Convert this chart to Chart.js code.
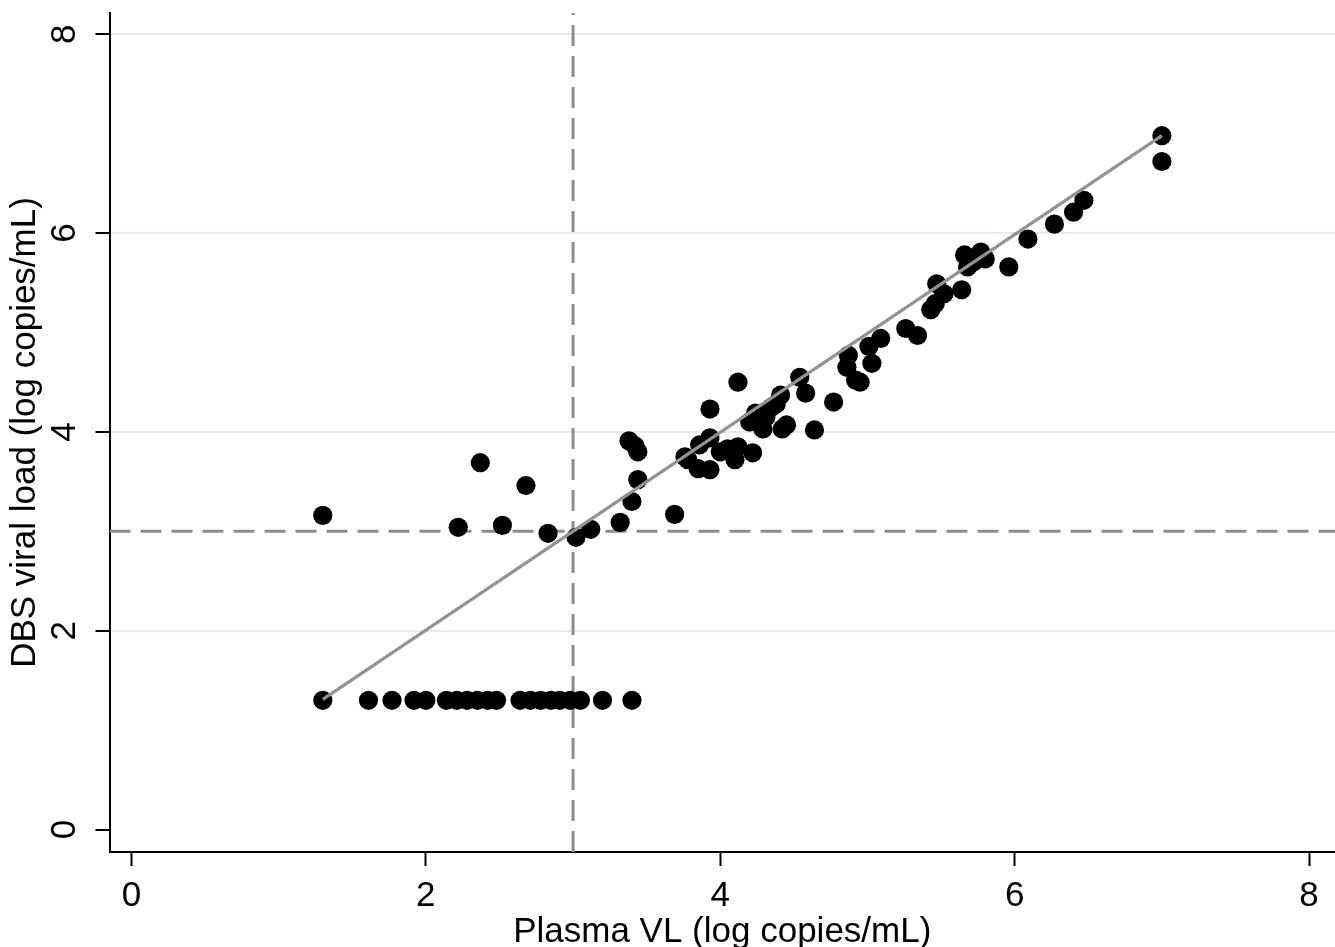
<!DOCTYPE html>
<html>
<head>
<meta charset="utf-8">
<script src="https://cdn.jsdelivr.net/npm/chart.js@4.4.1/dist/chart.umd.min.js"></script>
<style>
html,body{margin:0;padding:0;background:#fff;}
#wrap{width:1335px;height:947px;position:relative;}
</style>
</head>
<body>
<div id="wrap"><canvas id="c"></canvas></div>
<script>
// Samples with DBS below detection (plotted at 1.3 log)
const lowPlasma = [1.30,1.61,1.77,1.92,2.00,2.14,2.21,2.28,2.35,2.42,2.48,2.64,2.71,2.78,2.85,2.91,2.98,3.05,3.20,3.40];
const lowDBS    = [1.30,1.30,1.30,1.30,1.30,1.30,1.30,1.30,1.30,1.30,1.30,1.30,1.30,1.30,1.30,1.30,1.30,1.30,1.30,1.30];

// Samples with detectable DBS viral load
const detPlasma = [1.30,2.22,2.37,2.52,2.68,2.83,3.02,3.12,3.32,3.38,3.42,3.44,3.40,3.44,3.69,3.76,3.78,3.86,3.85,3.93,
                   3.93,3.93,4.00,4.05,4.09,4.10,4.12,4.12,4.22,4.20,4.24,4.27,4.29,4.31,4.35,4.38,4.41,4.42,4.45,4.54,
                   4.58,4.64,4.77,4.87,4.86,4.92,4.95,5.01,5.03,5.09,5.26,5.34,5.43,5.46,5.47,5.52,5.64,5.66,5.68,5.72,
                   5.77,5.80,5.96,6.09,6.27,6.40,6.47,7.00,7.00];
const detDBS    = [3.16,3.04,3.69,3.06,3.46,2.98,2.94,3.02,3.09,3.91,3.86,3.80,3.30,3.52,3.17,3.75,3.72,3.87,3.63,3.62,
                   3.94,4.23,3.80,3.83,3.78,3.72,4.50,3.85,3.79,4.10,4.19,4.10,4.03,4.15,4.25,4.28,4.37,4.03,4.07,4.55,
                   4.39,4.02,4.30,4.77,4.65,4.52,4.50,4.86,4.69,4.94,5.04,4.97,5.23,5.29,5.49,5.39,5.43,5.78,5.66,5.71,
                   5.81,5.74,5.66,5.94,6.09,6.21,6.33,6.98,6.72];

// Fitted line end points
const fitX = [1.30, 7.00];
const fitY = [1.31, 6.98];

// Detection threshold (3 log copies/mL)
const threshold = 3;

const xTicks = [0, 2, 4, 6, 8];
const yTicks = [0, 2, 4, 6, 8];
const xRange = [-0.149, 8.176];
const yRange = [-0.226, 8.214];

const FONT = '"Liberation Sans", Arial, Helvetica, sans-serif';

const pts = [];
lowPlasma.forEach((x, i) => pts.push({x: x, y: lowDBS[i]}));
detPlasma.forEach((x, i) => pts.push({x: x, y: detDBS[i]}));

const yRotLabels = {
  id: 'yRotLabels',
  afterDraw(chart) {
    const s = chart.scales.y;
    const ctx = chart.ctx;
    ctx.save();
    ctx.font = '35px ' + FONT;
    ctx.fillStyle = '#000';
    ctx.textAlign = 'center';
    ctx.textBaseline = 'middle';
    const cx = chart.chartArea.left - 44;
    s.ticks.forEach(t => {
      const py = s.getPixelForValue(t.value);
      ctx.save();
      ctx.translate(cx, py);
      ctx.rotate(-Math.PI / 2);
      ctx.fillText(String(t.value), 0, 0);
      ctx.restore();
    });
    ctx.restore();
  }
};

new Chart(document.getElementById('c'), {
  type: 'scatter',
  data: {
    datasets: [
      {
        label: 'fit',
        data: fitX.map((x, i) => ({x: x, y: fitY[i]})),
        showLine: true,
        borderColor: '#939393',
        borderWidth: 3.2,
        pointRadius: 0,
        order: 0
      },
      {
        label: 'samples',
        data: pts,
        backgroundColor: '#000',
        borderColor: '#000',
        borderWidth: 0,
        pointRadius: 9.6,
        order: 1
      },
      {
        label: 'hThreshold',
        data: [{x: xRange[0], y: threshold}, {x: xRange[1], y: threshold}],
        showLine: true,
        borderColor: '#8c8c8c',
        borderWidth: 3,
        borderDash: [21, 10],
        pointRadius: 0,
        order: 2
      },
      {
        label: 'vThreshold',
        data: [{x: threshold, y: yRange[0]}, {x: threshold, y: yRange[1]}],
        showLine: true,
        borderColor: '#8c8c8c',
        borderWidth: 3,
        borderDash: [21, 10],
        pointRadius: 0,
        order: 2
      }
    ]
  },
  options: {
    responsive: true,
    maintainAspectRatio: false,
    animation: false,
    layout: {autoPadding: false, padding: {top: 13, right: 0, left: 0, bottom: 0}},
    plugins: {legend: {display: false}, tooltip: {enabled: false}},
    scales: {
      x: {
        type: 'linear',
        min: xRange[0],
        max: xRange[1],
        afterBuildTicks: s => { s.ticks = xTicks.map(v => ({value: v})); },
        afterFit: s => { s.height = 95; s.paddingLeft = 0; s.paddingRight = 0; },
        grid: {drawOnChartArea: false, drawTicks: true, tickLength: 14, tickColor: '#000', tickWidth: 2},
        border: {display: true, color: '#000', width: 2},
        ticks: {font: {size: 35, family: FONT}, color: '#000', padding: 9, maxRotation: 0, minRotation: 0},
        title: {display: true, text: 'Plasma VL (log copies/mL)', color: '#000',
                font: {size: 35, family: FONT, lineHeight: 0.8}, padding: {top: 0, bottom: 1}}
      },
      y: {
        type: 'linear',
        min: yRange[0],
        max: yRange[1],
        afterBuildTicks: s => { s.ticks = yTicks.map(v => ({value: v})); },
        afterFit: s => { s.width = 109.5; s.paddingTop = 0; s.paddingBottom = 0; },
        grid: {
          color: c => (c.tick && c.tick.value === 0) ? 'rgba(0,0,0,0)' : '#e2ebf0',
          lineWidth: 2,
          drawTicks: true, tickLength: 14, tickColor: '#000', tickWidth: 2
        },
        border: {display: true, color: '#000', width: 2},
        ticks: {display: false},
        title: {display: true, text: 'DBS viral load (log copies/mL)', color: '#000',
                font: {size: 35, family: FONT, lineHeight: 0.8}, padding: {top: 11, bottom: 0}}
      }
    }
  },
  plugins: [yRotLabels]
});
</script>
</body>
</html>
